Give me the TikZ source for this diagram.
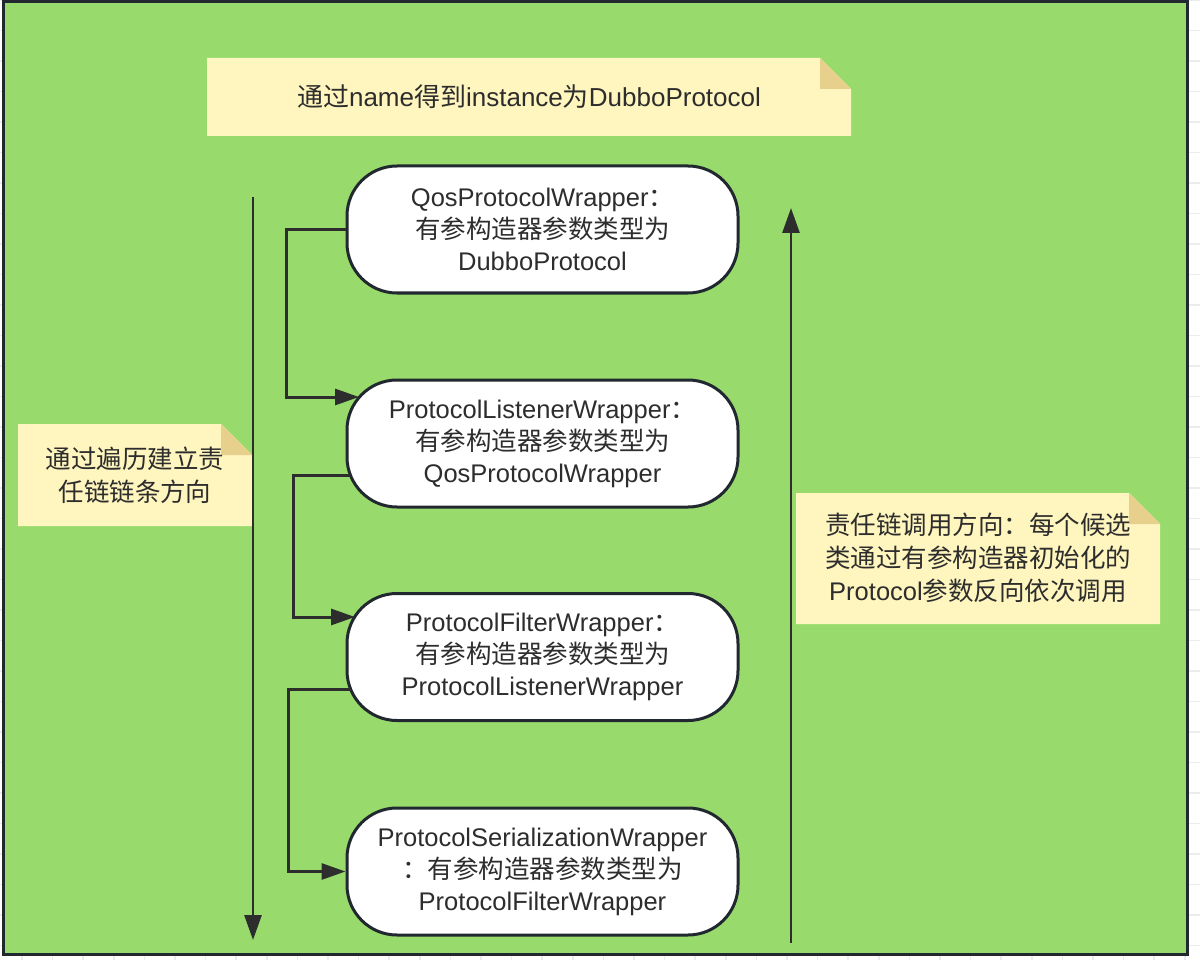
\documentclass[tikz,border=0pt]{standalone}
\usepackage{fontspec}
\setmainfont{Liberation Sans}
\newfontfamily\cjk{Noto Sans CJK SC}
\usetikzlibrary{arrows.meta}
\definecolor{bggreen}{RGB}{152,219,108}
\definecolor{notefill}{RGB}{255,245,190}
\definecolor{notefold}{RGB}{230,208,140}
\definecolor{ink}{RGB}{45,45,45}
\definecolor{framec}{RGB}{33,40,48}
\definecolor{linec}{RGB}{45,45,45}
\definecolor{gridc}{RGB}{236,236,236}
\newcommand\zh[1]{{\cjk #1}}
\newcommand\stickynote[4]{%
  \fill[notefill] (#1,#2) -- (#3-31,#2) -- (#3,#2+31) -- (#3,#4) -- (#1,#4) -- cycle;
  \fill[notefold] (#3-31,#2) -- (#3-31,#2+31) -- (#3,#2+31) -- cycle;
}
\tikzset{
  wbox/.style={draw=framec, line width=3pt, fill=white, rounded corners=50pt,
    minimum width=391pt, minimum height=127pt, text=ink, align=center,
    font=\fontsize{25.5}{32}\selectfont, inner sep=0pt},
  notetext/.style={text=ink, align=center, font=\fontsize{25.5}{33}\selectfont, inner sep=0pt},
  conn/.style={draw=linec, line width=3pt, -{Triangle[length=24pt,width=16pt]}},
  longarrow/.style={draw=linec, line width=2.7pt, -{Triangle[length=25pt,width=17pt]}}
}
\begin{document}
\begin{tikzpicture}[x=1pt,y=-1pt]
\useasboundingbox (0,0) rectangle (1200,960);
\fill[white] (0,0) rectangle (1200,960);
\foreach \k in {0,...,38} \draw[gridc, line width=1.5pt] (22+30.6*\k,0) -- (22+30.6*\k,960);
\foreach \k in {0,...,31} \draw[gridc, line width=1.5pt] (0,30.5*\k) -- (1200,30.5*\k);
\draw[framec, line width=3pt, fill=bggreen] (3.5,2) rectangle (1187.5,954);

% notes
\stickynote{207}{58}{851}{136}
\node[notetext, font=\fontsize{26}{32}\selectfont] (ntop) at (529,97) {\zh{通过}name\zh{得到}instance\zh{为}DubboProtocol};
\stickynote{18}{424}{252}{526}
\node[notetext] (nleft) at (135,475) {\zh{通过遍历建立责}\\\zh{任链链条方向}};
\stickynote{796}{493}{1160}{624}
\node[notetext] (nright) at (978,558) {\zh{责任链调用方向：每个候选}\\\zh{类通过有参构造器初始化的}\\Protocol\zh{参数反向依次调用}};

% long arrows
\coordinate (la1) at (253,197);
\coordinate (la2) at (253,940);
\draw[longarrow] (la1) -- (la2);
\coordinate (ra1) at (791,943);
\coordinate (ra2) at (791,208);
\draw[longarrow] (ra1) -- (ra2);

% boxes
\node[wbox] (b1) at (542.5,229.5) {QosProtocolWrapper\zh{：}\\\zh{有参构造器参数类型为}\\DubboProtocol};
\node[wbox] (b2) at (542.5,443.5) {ProtocolListenerWrapper\zh{：}\\\zh{有参构造器参数类型为}\\QosProtocolWrapper};
\node[wbox] (b3) at (542.5,657) {ProtocolFilterWrapper\zh{：}\\\zh{有参构造器参数类型为}\\ProtocolListenerWrapper};
\node[wbox] (b4) at (542.5,871.5) {ProtocolSerializationWrapper\\\zh{：有参构造器参数类型为}\\ProtocolFilterWrapper};

% connectors
\coordinate (e2) at (359,397);
\draw[conn] (b1.west) -- ++(-59,0) |- (e2);
\coordinate (s2) at (350,475);
\coordinate (e3) at (355,617);
\draw[conn] (s2) -- ++(-57,0) |- (e3);
\coordinate (s3) at (351,689);
\draw[conn] (s3) -- ++(-63,0) |- (b4.west);
\end{tikzpicture}
\end{document}
